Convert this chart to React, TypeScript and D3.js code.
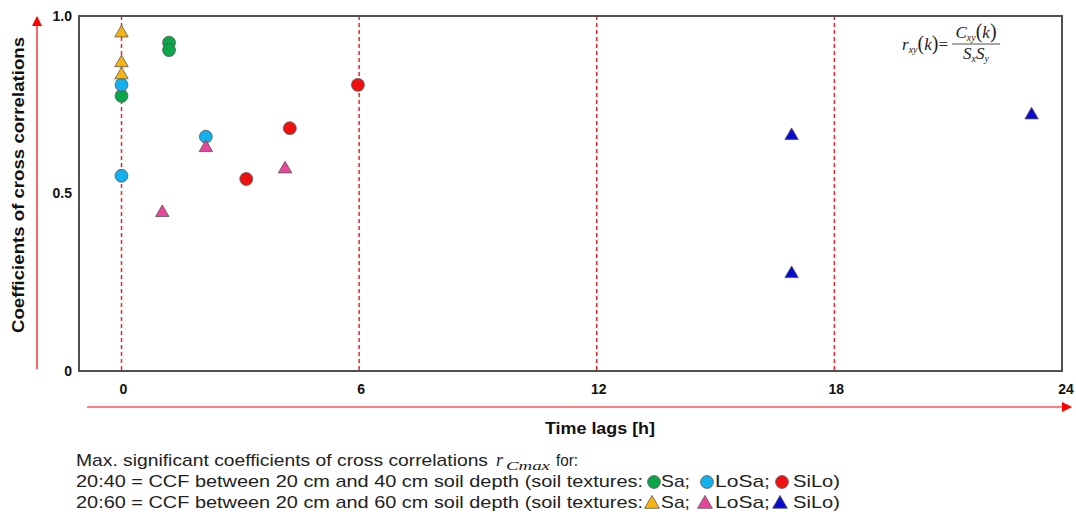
import React from "react";
import * as d3 from "d3";

// ---- Data ----
const xTicks = [0, 6, 12, 18, 24];
const xTickLabels = ["0", "6", "12", "18", "24"];
const yTicks = [0, 0.5, 1.0];
const yTickLabels = ["0", "0.5", "1.0"];
const dashedLags = [0, 6, 12, 18];

// CCF 20:40 (circles)
const sa40X = [0, 1.2, 1.2];
const sa40Y = [0.775, 0.925, 0.904];
const losa40X = [0, 0, 2.13];
const losa40Y = [0.806, 0.55, 0.66];
const silo40X = [3.15, 4.25, 5.97];
const silo40Y = [0.541, 0.684, 0.806];
// CCF 20:60 (triangles)
const sa60X = [0, 0, 0];
const sa60Y = [0.952, 0.868, 0.834];
const losa60X = [1.03, 2.13, 4.13];
const losa60Y = [0.446, 0.629, 0.569];
const silo60X = [16.92, 16.92, 22.98];
const silo60Y = [0.663, 0.274, 0.721];

const textures = ["Sa", "LoSa", "SiLo"];
const colors = ["#0aa64a", "#12b0ec", "#f01010"];
const colors60 = ["#f8b50e", "#e8449c", "#0a0ad0"];

const series = [
  { xs: sa40X, ys: sa40Y, color: colors[0], shape: "circle" },
  { xs: losa40X, ys: losa40Y, color: colors[1], shape: "circle" },
  { xs: silo40X, ys: silo40Y, color: colors[2], shape: "circle" },
  { xs: sa60X, ys: sa60Y, color: colors60[0], shape: "triangle" },
  { xs: losa60X, ys: losa60Y, color: colors60[1], shape: "triangle" },
  { xs: silo60X, ys: silo60Y, color: colors60[2], shape: "triangle" },
];

const W = 1076;
const H = 522;
const frameL = 79, frameR = 1062, frameT = 16, frameB = 371;

const x = d3.scaleLinear().domain([0, 24]).range([121.5, 1072]);
const y = d3.scaleLinear().domain([0, 1]).range([frameB, frameT]);

const circlePath = d3.symbol().type(d3.symbolCircle).size(130)()!;
const triPath = d3.symbol().type(d3.symbolTriangle).size(78)()!;
const circleSmall = d3.symbol().type(d3.symbolCircle).size(128)()!;
const triSmall = d3.symbol().type(d3.symbolTriangle).size(95)()!;

const SANS = "'Liberation Sans', Arial, sans-serif";
const SERIF = "'Liberation Serif', 'Times New Roman', serif";
const RED = "#e8262b";

export default function App() {
  const legendY = [466, 487, 508];
  const markX = [654, 707, 782];
  const labX = [661, 715, 793];
  const labW = [29, 55, 47];
  return (
    <svg
      width={W}
      height={H}
      style={{ position: "absolute", left: 0, top: 0, background: "#fff" }}
      fontFamily={SANS}
    >
      <defs>
        <marker id="arrR" viewBox="0 0 10 10" refX="9" refY="5" markerWidth="10" markerHeight="10" markerUnits="userSpaceOnUse" orient="auto">
          <path d="M0,0 L10,5 L0,10 z" fill="#ff0000" />
        </marker>
      </defs>

      {/* dashed lag lines */}
      {dashedLags.map((d) => (
        <line
          key={d}
          x1={x(d)}
          x2={x(d)}
          y1={frameT}
          y2={frameB}
          stroke={RED}
          strokeWidth={1.5}
          strokeDasharray="4 3"
        />
      ))}

      {/* frame */}
      <rect
        x={frameL}
        y={frameT}
        width={frameR - frameL}
        height={frameB - frameT}
        fill="none"
        stroke="#505050"
        strokeWidth={2}
      />

      {/* formula */}
      <g fontFamily={SERIF} fontSize={17} fill="#222">
        <text x={902} y={50}>
          <tspan fontStyle="italic">r</tspan>
          <tspan fontSize={10} fontStyle="italic" dy={3}>xy</tspan>
          <tspan dy={-3} fontSize={20}>(</tspan>
          <tspan fontStyle="italic">k</tspan>
          <tspan fontSize={20}>)</tspan>
          <tspan>=</tspan>
        </text>
        <text x={976} y={38} textAnchor="middle">
          <tspan fontStyle="italic">C</tspan>
          <tspan fontSize={10} fontStyle="italic" dy={3}>xy</tspan>
          <tspan dy={-3} fontSize={20}>(</tspan>
          <tspan fontStyle="italic">k</tspan>
          <tspan fontSize={20}>)</tspan>
        </text>
        <line x1={952} x2={1000} y1={44} y2={44} stroke="#222" strokeWidth={0.8} />
        <text x={976} y={59} textAnchor="middle">
          <tspan fontStyle="italic">S</tspan>
          <tspan fontSize={10} fontStyle="italic" dy={3}>x</tspan>
          <tspan fontStyle="italic" dy={-3}>S</tspan>
          <tspan fontSize={10} fontStyle="italic" dy={3}>y</tspan>
        </text>
      </g>

      {/* points */}
      {series.map((s, si) =>
        s.xs.map((xv, i) => (
          <path
            key={`${si}-${i}`}
            d={s.shape === "circle" ? circlePath : triPath}
            transform={`translate(${x(xv)},${y(s.ys[i])})`}
            fill={s.color}
            stroke="#555"
            strokeWidth={0.8}
          />
        ))
      )}

      {/* y tick labels */}
      {yTicks.map((t, i) => (
        <text
          key={t}
          x={72}
          y={y(t)}
          dy="0.35em"
          textAnchor="end"
          fontWeight="bold"
          fontSize={14}
          fill="#111"
        >
          {yTickLabels[i]}
        </text>
      ))}

      {/* x tick labels */}
      {xTicks.map((t, i) => (
        <text
          key={t}
          x={Math.min(x(t) + 2, 1066)}
          y={389}
          dy="0.35em"
          textAnchor="middle"
          fontWeight="bold"
          fontSize={14}
          fill="#111"
        >
          {xTickLabels[i]}
        </text>
      ))}

      {/* axis arrows */}
      <line x1={37} x2={37} y1={369} y2={17} stroke="#ff0000" strokeWidth={1.2} markerEnd="url(#arrR)" />
      <line x1={87} x2={1071} y1={407} y2={407} stroke="#ff0000" strokeWidth={1.2} markerEnd="url(#arrR)" />

      {/* axis titles */}
      <text
        transform={`translate(18,${185}) rotate(-90)`}
        textAnchor="middle"
        dy="0.35em"
        fontWeight="bold"
        fontSize={16}
        fill="#111"
        textLength={296}
        lengthAdjust="spacingAndGlyphs"
      >
        Coefficients of cross correlations
      </text>
      <text
        x={600}
        y={428}
        dy="0.35em"
        textAnchor="middle"
        fontWeight="bold"
        fontSize={16}
        fill="#111"
        textLength={110}
        lengthAdjust="spacingAndGlyphs"
      >
        Time lags [h]
      </text>

      {/* legend */}
      <g fontSize={17} fill="#222">
        <text x={76} y={legendY[0]} textLength={412} lengthAdjust="spacingAndGlyphs">
          Max. significant coefficients of cross correlations
        </text>
        <text x={496} y={legendY[0]} fontFamily={SERIF} fontStyle="italic" fontSize={18}>r</text>
        <text x={506} y={legendY[0] + 4} fontFamily={SERIF} fontStyle="italic" fontSize={13} textLength={44} lengthAdjust="spacingAndGlyphs">Cmax</text>
        <text x={556} y={legendY[0]} textLength={22} lengthAdjust="spacingAndGlyphs">for:</text>
        <text x={76} y={legendY[1]} textLength={567} lengthAdjust="spacingAndGlyphs">
          20:40 = CCF between 20 cm and 40 cm soil depth (soil textures:
        </text>
        <text x={76} y={legendY[2]} textLength={567} lengthAdjust="spacingAndGlyphs">
          20:60 = CCF between 20 cm and 60 cm soil depth (soil textures:
        </text>
        {textures.map((t, i) => (
          <g key={t}>
            <path d={circleSmall} transform={`translate(${markX[i]},${legendY[1] - 5})`} fill={colors[i]} stroke="#555" strokeWidth={0.8} />
            <text x={labX[i]} y={legendY[1]} textLength={labW[i]} lengthAdjust="spacingAndGlyphs">{t}{i < 2 ? ";" : ")"}</text>
            <path d={triSmall} transform={`translate(${markX[i] - 2},${legendY[2] - 4})`} fill={colors60[i]} stroke="#555" strokeWidth={0.8} />
            <text x={labX[i]} y={legendY[2]} textLength={labW[i]} lengthAdjust="spacingAndGlyphs">{t}{i < 2 ? ";" : ")"}</text>
          </g>
        ))}
      </g>
    </svg>
  );
}
